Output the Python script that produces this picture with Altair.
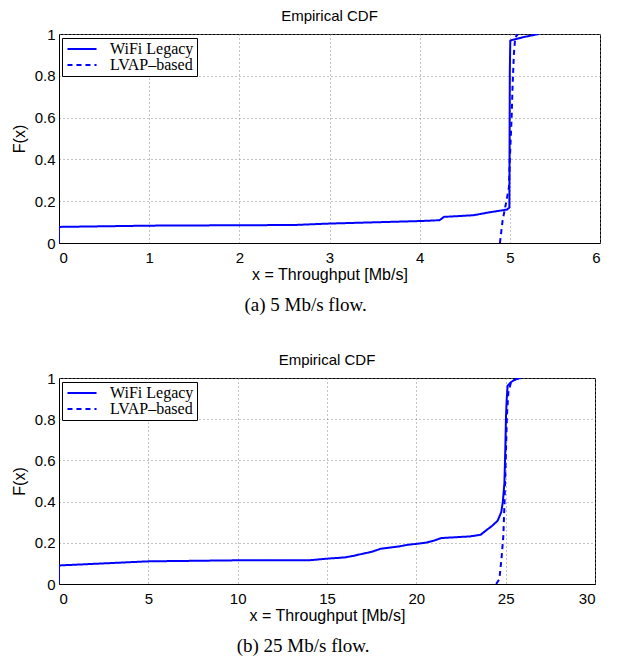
import altair as alt
import pandas as pd

# ---- data ----
SERIES = ["WiFi Legacy", "LVAP\u2013based"]

A_WIFI_X = [0, 0, 1, 2, 2.6, 3, 3.5, 4, 4.22, 4.27, 4.4, 4.6, 4.75, 4.85, 4.97, 4.995, 5.0, 5.005, 5.03, 5.15, 5.32]
A_WIFI_Y = [0, 0.077, 0.083, 0.085, 0.086, 0.093, 0.099, 0.105, 0.109, 0.125, 0.128, 0.133, 0.145, 0.152, 0.16, 0.17, 0.825, 0.968, 0.972, 0.985, 1.0]
A_LVAP_X = [4.89, 4.92, 4.96, 4.99, 5.0, 5.02, 5.03, 5.045, 5.06, 5.09]
A_LVAP_Y = [0.0, 0.108, 0.196, 0.267, 0.4, 0.6, 0.745, 0.905, 0.984, 1.0]

B_WIFI_X = [0, 0, 2, 5, 10, 14, 15, 16, 16.5, 17, 17.5, 18, 19, 19.5, 20.5, 21, 21.4, 22, 23, 23.6, 23.9,
            24.25, 24.55, 24.75, 24.84, 24.93, 24.98, 25.02, 25.06, 25.11, 25.3, 25.58, 25.86]
B_WIFI_Y = [0, 0.09, 0.098, 0.11, 0.115, 0.115, 0.123, 0.129, 0.137, 0.147, 0.156, 0.171, 0.182, 0.19, 0.2,
            0.211, 0.223, 0.226, 0.231, 0.239, 0.26, 0.283, 0.307, 0.348, 0.397, 0.49, 0.655, 0.817, 0.898,
            0.963, 0.98, 0.995, 1.0]
B_LVAP_X = [24.47, 24.65, 24.78, 24.87, 24.93, 25.02, 25.07, 25.15, 25.3, 25.58, 25.86]
B_LVAP_Y = [0, 0.024, 0.137, 0.234, 0.38, 0.655, 0.817, 0.93, 0.98, 0.995, 1.0]

A_XTICKS = [0, 1, 2, 3, 4, 5, 6]
B_XTICKS = [0, 5, 10, 15, 20, 25, 30]
YTICKS = [0, 0.2, 0.4, 0.6, 0.8, 1]

TITLE = "Empirical CDF"
XTITLE = "x = Throughput [Mb/s]"
YTITLE = "F(x)"
CAP_A = "(a) 5 Mb/s flow."
CAP_B = "(b) 25 Mb/s flow."

SANS = "Liberation Sans"
SERIF = "Liberation Serif"


def frame(wx, wy, lx, ly):
    rows = []
    for i, (x, y) in enumerate(zip(wx, wy)):
        rows.append({"x": x, "y": y, "series": SERIES[0], "i": i})
    for i, (x, y) in enumerate(zip(lx, ly)):
        rows.append({"x": x, "y": y, "series": SERIES[1], "i": i})
    return pd.DataFrame(rows)


def legend():
    return alt.Legend(
        title=None, orient="none", legendX=3, legendY=4,
        symbolType="M-2.5,0H2.5", symbolSize=135, symbolStrokeWidth=2,
        symbolOffset=9, labelOffset=20,
        labelFont=SERIF, labelFontSize=16, labelColor="black",
        strokeColor="black", fillColor="white", padding=3,
        rowPadding=-4,
    )


def panel(df, xmax, xticks, w, h):
    return alt.Chart(df).mark_line(strokeWidth=2, clip=True).encode(
        x=alt.X("x:Q", scale=alt.Scale(domain=[0, xmax], nice=False),
                axis=alt.Axis(values=xticks, title=XTITLE, format="~g")),
        y=alt.Y("y:Q", scale=alt.Scale(domain=[0, 1], nice=False),
                axis=alt.Axis(values=YTICKS, title=YTITLE, format="~g")),
        color=alt.Color("series:N", scale=alt.Scale(domain=SERIES, range=["#0000ff", "#0000ff"]),
                        legend=legend()),
        strokeDash=alt.StrokeDash("series:N", scale=alt.Scale(domain=SERIES, range=[[1, 0], [5, 4]]),
                                  legend=legend()),
        order="i:Q",
    ).properties(
        width=w, height=h,
        title=alt.TitleParams(TITLE, font=SANS, fontSize=15, fontWeight="normal", offset=3, color="black"),
    )


def captioned(ch, text):
    return alt.vconcat(ch).properties(
        title=alt.TitleParams(text, orient="bottom", font=SERIF, fontSize=19, fontWeight="normal",
                              anchor="middle", frame="bounds", offset=13, color="black")
    )


pa = panel(frame(A_WIFI_X, A_WIFI_Y, A_LVAP_X, A_LVAP_Y), 6, A_XTICKS, 541, 209)
pb = panel(frame(B_WIFI_X, B_WIFI_Y, B_LVAP_X, B_LVAP_Y), 30, B_XTICKS, 536, 206)

chart = alt.vconcat(
    captioned(pa, CAP_A), captioned(pb, CAP_B), spacing=37
).resolve_scale(
    x="independent", y="independent", color="independent", strokeDash="independent"
).resolve_legend(color="independent", strokeDash="independent").properties(
    padding={"top": 0, "left": 2, "right": 5, "bottom": 0}
).configure_view(
    stroke="black", strokeWidth=1
).configure_axis(
    labelFont=SANS, labelFontSize=15, labelColor="black",
    titleFont=SANS, titleFontSize=16, titleFontWeight="normal", titleColor="black",
    domainColor="black", domainWidth=1,
    ticks=False, labelPadding=7, titlePadding=1,
    gridColor="#888888", gridDash=[1, 3], gridWidth=1, gridOpacity=1,
).configure_axisY(
    labelPadding=4, titlePadding=7,
)

chart.save("out.html", embed_options={"renderer": "svg", "actions": False})
